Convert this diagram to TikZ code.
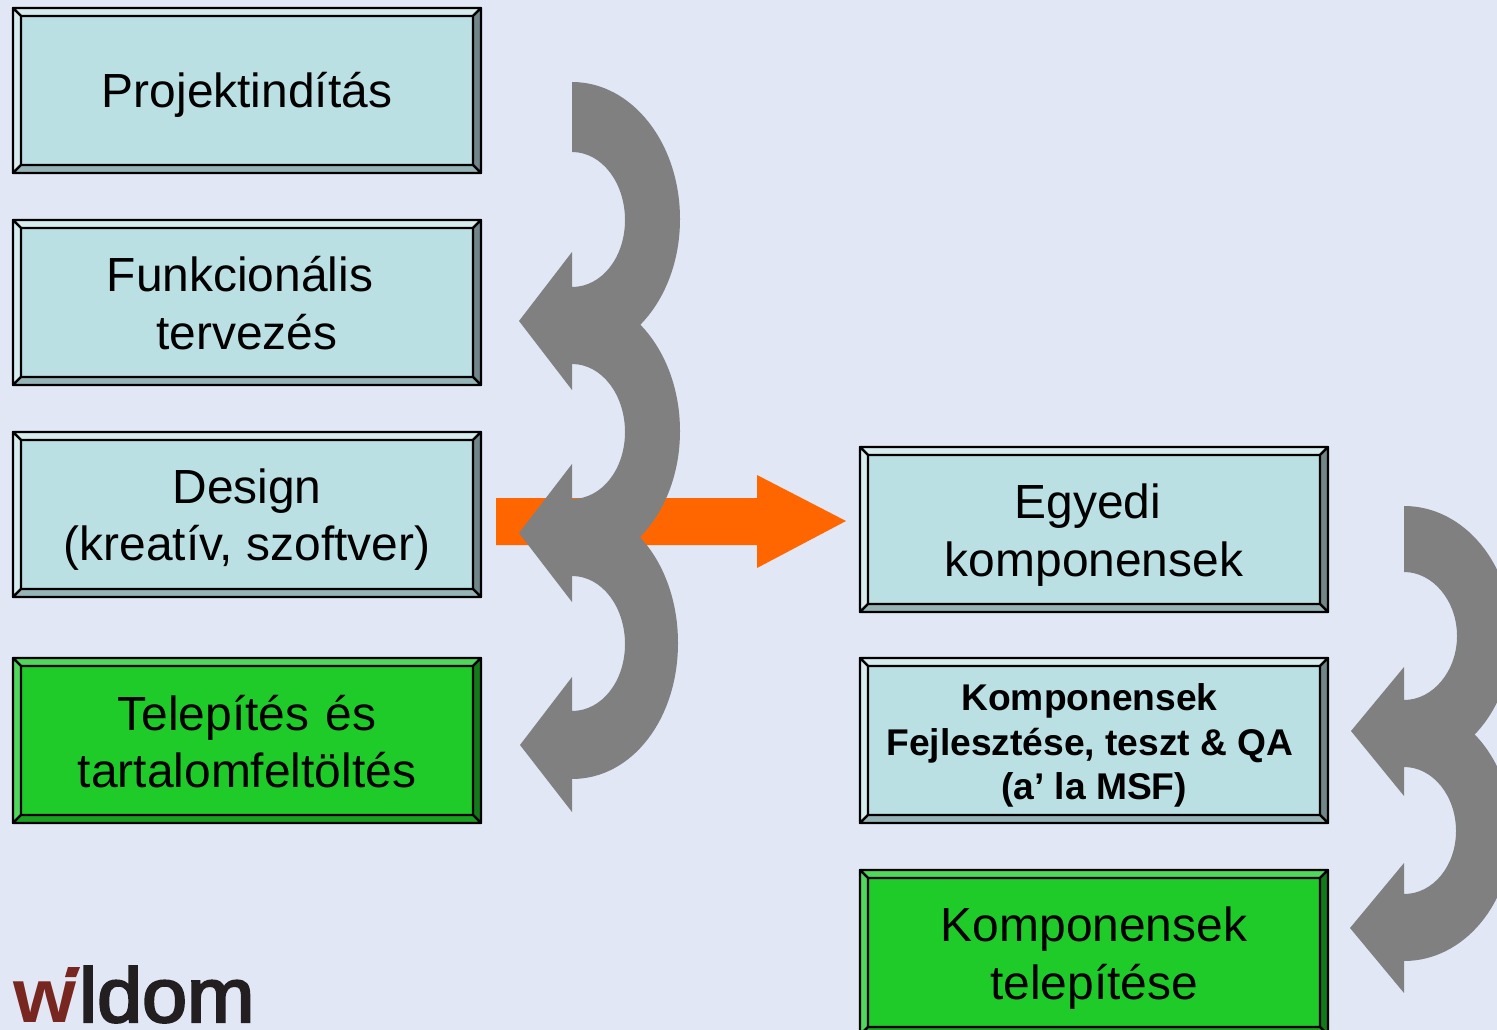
\documentclass[tikz,border=0pt]{standalone}
\usepackage{fontspec}
\setmainfont{Liberation Sans}
\newfontfamily\logofont[FakeBold=3]{Liberation Sans}
\definecolor{bgc}{HTML}{E1E7F5}
\definecolor{arrowgrey}{HTML}{808080}
\definecolor{orangec}{HTML}{FF6600}
\definecolor{tealf}{HTML}{BBE0E3}
\definecolor{tealt}{HTML}{D6ECEE}
\definecolor{tealb}{HTML}{96B3B6}
\definecolor{tealr}{HTML}{708688}
\definecolor{greenf}{HTML}{1ECB28}
\definecolor{greent}{HTML}{4FD85A}
\definecolor{greenb}{HTML}{18A220}
\definecolor{greenr}{HTML}{127A18}
\definecolor{maroon}{HTML}{782620}
\definecolor{logoink}{HTML}{231F20}
\tikzset{
  bev/.style={draw=black,line width=2.2pt,line join=round},
  lbl/.style={align=center,font=\fontsize{47.9}{57.7}\selectfont,text=black,inner sep=0pt},
  lblb/.style={align=center,font=\fontsize{37.2}{44.6}\selectfont\bfseries,text=black,inner sep=0pt},
  garrow/.style={fill=arrowgrey,draw=none},
  logot/.style={inner sep=0pt,font=\fontsize{77}{77}\selectfont\bfseries},
  logor/.style={inner sep=0pt,font=\fontsize{77}{77}\logofont}
}
\newcommand{\bevbox}[3]{%
  \begin{scope}[shift={(#1,#2)}]
    \fill[#3f] (0,0) rectangle (468,165);
    \filldraw[bev,fill=#3t] (0,0) -- (468,0) -- (460,8) -- (8,8) -- cycle;
    \filldraw[bev,fill=#3t] (0,0) -- (8,8) -- (8,157) -- (0,165) -- cycle;
    \filldraw[bev,fill=#3r] (468,0) -- (468,165) -- (460,157) -- (460,8) -- cycle;
    \filldraw[bev,fill=#3b] (0,165) -- (8,157) -- (460,157) -- (468,165) -- cycle;
  \end{scope}}
\begin{document}
\begin{tikzpicture}[x=1pt,y=-1pt]
\useasboundingbox (0,0) rectangle (1497,1030);
\clip (0,0) rectangle (1497,1030);
\fill[bgc] (0,0) rectangle (1497,1030);
% orange arrow
\fill[orangec] (496,498) -- (757,498) -- (757,475) -- (846,521) -- (757,568) -- (757,545) -- (496,545) -- cycle;
% boxes
\bevbox{13}{8}{teal}
\bevbox{13}{220}{teal}
\bevbox{13}{432}{teal}
\bevbox{13}{658}{green}
\bevbox{860}{447}{teal}
\bevbox{860}{658}{teal}
\bevbox{860}{870}{green}
% labels
\node[lbl] (projekt) at (247,95) {Projektindítás};
\node[lbl] (funk) at (247,303) {Funkcionális\hspace*{14pt}\\tervezés};
\node[lbl] (design) at (247,519.5) {Design\\(kreatív, szoftver)};
\node[lbl] (telep) at (247,741.5) {Telepítés\hspace{3pt} és\\tartalomfeltöltés};
\node[lbl] (egyedi) at (1094,535) {Egyedi\hspace*{12pt}\\komponensek};
\node[lblb] (fejl) at (1090,745.5) {Komponensek\hspace*{1pt}\\Fejlesztése, teszt \& QA\\\hspace*{8pt}(a’ la MSF)};
\node[lbl] (kompt) at (1094,958) {Komponensek\\telepítése};
% grey curved arrows, left column
\foreach \d in {0,212}{
  \begin{scope}[yshift=-\d pt]
    \fill[garrow] (572,82)
      .. controls (632,82) and (680,143) .. (680,219)
      .. controls (680,295) and (632,355) .. (572,355)
      -- (572,390) -- (519,321) -- (572,252) -- (572,287)
      .. controls (602,287) and (625,257) .. (625,220)
      .. controls (625,183) and (602,152) .. (572,152) -- cycle;
  \end{scope}}
\fill[garrow] (572,506)
  .. controls (632,506) and (678,567) .. (678,643)
  .. controls (678,719) and (632,779) .. (572,779)
  -- (572,812) -- (520,745) -- (572,677) -- (572,711)
  .. controls (602,711) and (625,681) .. (625,644)
  .. controls (625,607) and (602,576) .. (572,576) -- cycle;
% grey curved arrows, right column
\fill[garrow] (1404,506)
  .. controls (1464,506) and (1512,564) .. (1512,636)
  .. controls (1512,708) and (1464,766) .. (1404,766)
  -- (1404,796) -- (1351,731) -- (1404,667) -- (1404,700)
  .. controls (1433,700) and (1457,671) .. (1457,636)
  .. controls (1457,601) and (1433,572) .. (1404,572) -- cycle;
\fill[garrow] (1404,703)
  .. controls (1464,703) and (1512,761) .. (1512,832)
  .. controls (1512,903) and (1464,961) .. (1404,961)
  -- (1404,993) -- (1350,928) -- (1404,863) -- (1404,894)
  .. controls (1433,894) and (1456,866) .. (1456,831)
  .. controls (1456,796) and (1433,767) .. (1404,767) -- cycle;
% logo
\node[logot,text=maroon,anchor=base west,xscale=1.05] (logow) at (13,1022) {w};
\fill[maroon] (68,967) -- (80,967) -- (76,977) -- (65,977) -- cycle;
\node[logor,text=logoink,anchor=base west,xscale=1.05] (logoname) at (79,1022) {ldom};
\end{tikzpicture}
\end{document}
